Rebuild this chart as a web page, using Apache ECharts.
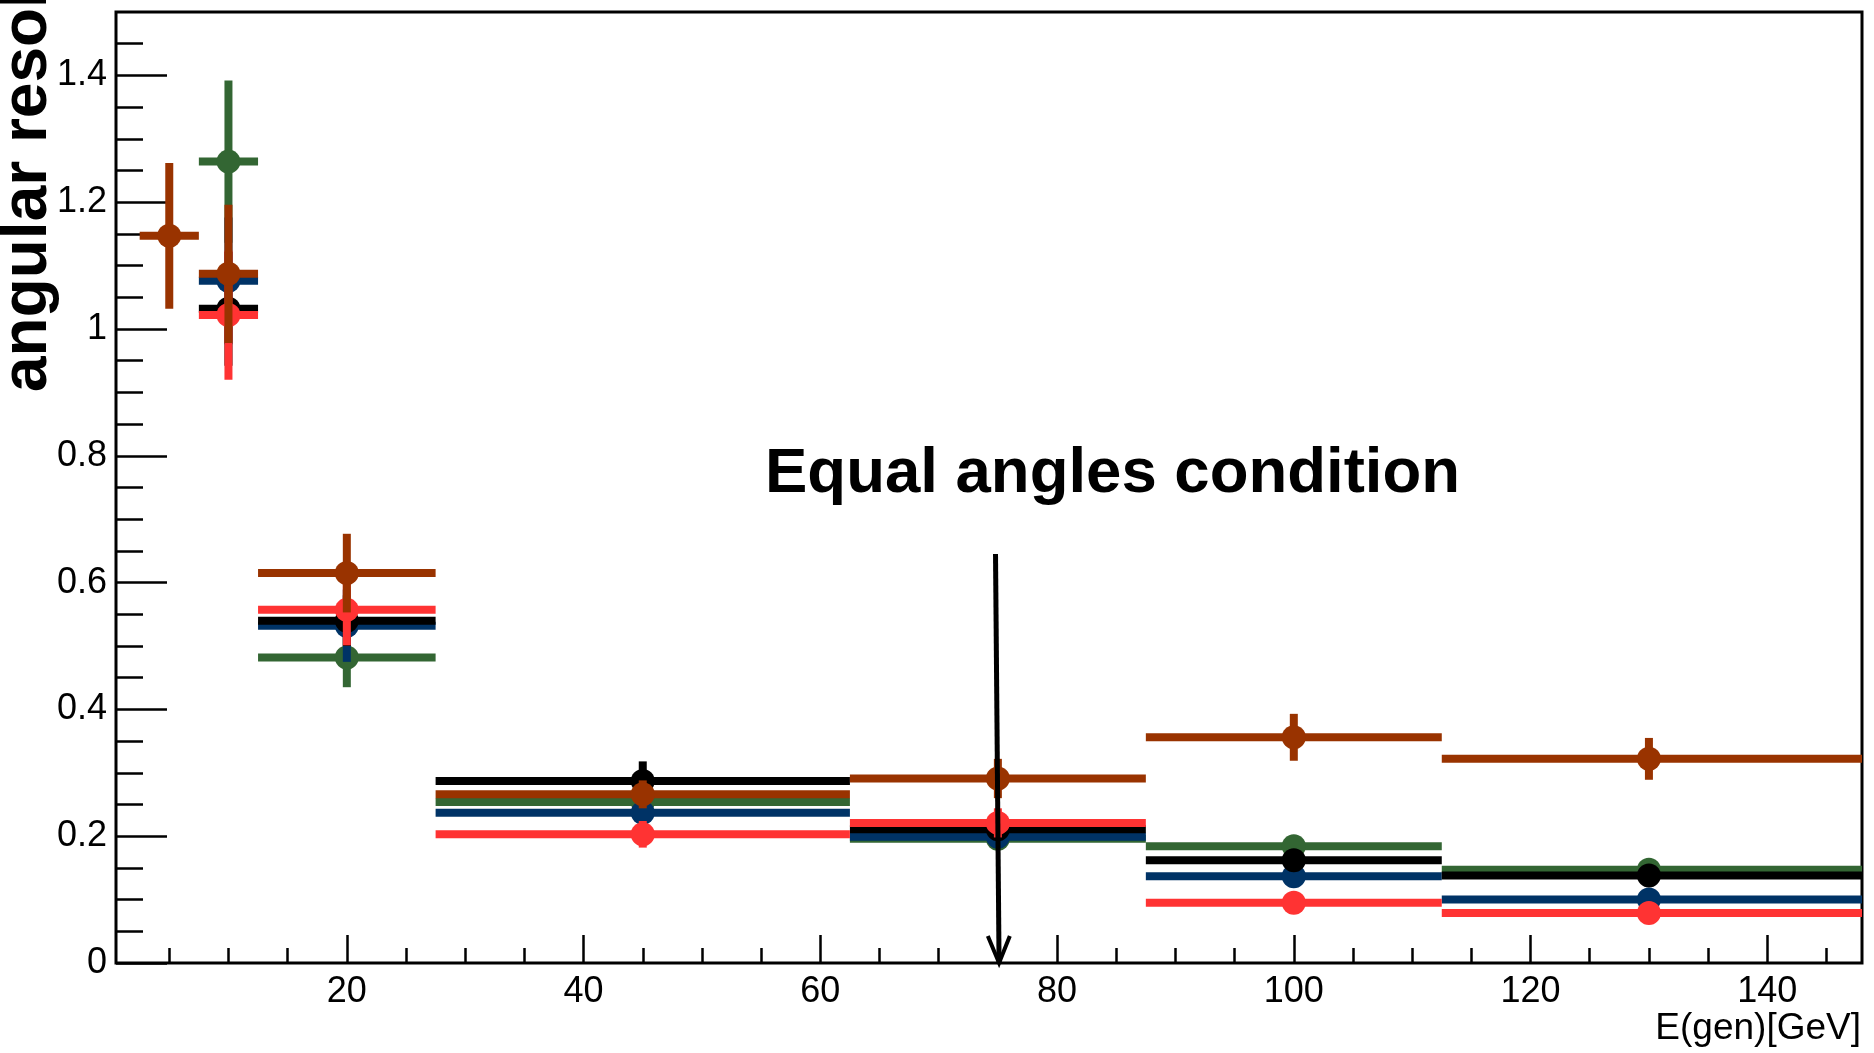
<!DOCTYPE html>
<html>
<head>
<meta charset="utf-8">
<script src="https://cdn.jsdelivr.net/npm/echarts@6/dist/echarts.min.js"></script>
<style>
  html, body { margin: 0; padding: 0; background: #fff; }
  #chart { width: 1874px; height: 1053px; }
</style>
</head>
<body>
<div id="chart"></div>
<script>
// energy bins (GeV)
const binCenters = [5, 10, 20, 45, 75, 100, 130];
const binLow     = [2.5, 7.5, 12.5, 27.5, 62.5, 87.5, 112.5];
const binHigh    = [7.5, 12.5, 27.5, 62.5, 87.5, 112.5, 150];

// angular resolution per series, null = no point in that bin
const greenVals = [null, 1.264, 0.482, 0.254, 0.196, 0.184, 0.147];
const greenErrs = [null, 0.128, 0.047, 0.012, 0.010, 0.012, 0.008];
const navyVals  = [null, 1.076, 0.532, 0.237, 0.199, 0.137, 0.100];
const navyErrs  = [null, 0.100, 0.057, 0.012, 0.012, 0.009, 0.008];
const blackVals = [null, 1.032, 0.540, 0.287, 0.211, 0.162, 0.138];
const blackErrs = [null, 0.090, 0.040, 0.031, 0.015, 0.010, 0.008];
const redVals   = [null, 1.022, 0.557, 0.203, 0.221, 0.095, 0.079];
const redErrs   = [null, 0.102, 0.056, 0.021, 0.023, 0.008, 0.008];
const brownVals = [1.147, 1.087, 0.615, 0.266, 0.291, 0.356, 0.322];
const brownErrs = [0.115, 0.109, 0.062, 0.022, 0.031, 0.037, 0.033];

// tick positions
const xMajorTicks = [20, 40, 60, 80, 100, 120, 140];
const xMinorTicks = [5, 10, 15, 20, 25, 30, 35, 40, 45, 50, 55, 60, 65, 70, 75,
                     80, 85, 90, 95, 100, 105, 110, 115, 120, 125, 130, 135, 140, 145];
const yMajorTicks = [0, 0.2, 0.4, 0.6, 0.8, 1, 1.2, 1.4];
const yMinorTicks = [0, 0.05, 0.1, 0.15, 0.2, 0.25, 0.3, 0.35, 0.4, 0.45, 0.5, 0.55,
                     0.6, 0.65, 0.7, 0.75, 0.8, 0.85, 0.9, 0.95, 1, 1.05, 1.1, 1.15,
                     1.2, 1.25, 1.3, 1.35, 1.4, 1.45];

// annotation arrow, in data units: [x, y] start and end
const arrowFrom = [74.8, 0.645];
const arrowTo   = [75.1, 0.0];

const FONT = '"Liberation Sans", Arial, Helvetica, sans-serif';

function buildData(vals, errs) {
  const out = [];
  vals.forEach((v, i) => {
    if (v === null) return;
    out.push([binCenters[i], v, binLow[i], binHigh[i], errs[i]]);
  });
  return out;
}

function errorBarItem(color) {
  return function (params, api) {
    const c = api.value(0), v = api.value(1);
    const lo = api.value(2), hi = api.value(3), e = api.value(4);
    const pL = api.coord([lo, v]);
    const pR = api.coord([hi, v]);
    const pT = api.coord([c, v + e]);
    const pB = api.coord([c, v - e]);
    const pC = api.coord([c, v]);
    const st = { stroke: color, lineWidth: 8, lineCap: 'butt' };
    return {
      type: 'group',
      children: [
        { type: 'line', shape: { x1: pL[0], y1: pL[1], x2: pR[0], y2: pR[1] }, style: st },
        { type: 'line', shape: { x1: pT[0], y1: pT[1], x2: pB[0], y2: pB[1] }, style: st },
        { type: 'circle', shape: { cx: pC[0], cy: pC[1], r: 12 }, style: { fill: color } }
      ]
    };
  };
}

function arrowItem(params, api) {
  const p1 = api.coord([api.value(0), api.value(1)]);
  const p2 = api.coord([api.value(2), api.value(3)]);
  const dx = p2[0] - p1[0], dy = p2[1] - p1[1];
  const len = Math.sqrt(dx * dx + dy * dy);
  const ux = dx / len, uy = dy / len, nx = -uy, ny = ux;
  const hl = 27, hw = 11;
  return {
    type: 'group',
    children: [
      { type: 'line', shape: { x1: p1[0], y1: p1[1], x2: p2[0], y2: p2[1] },
        style: { stroke: '#000', lineWidth: 5 } },
      { type: 'polyline',
        shape: { points: [
          [p2[0] - ux * hl + nx * hw, p2[1] - uy * hl + ny * hw],
          [p2[0], p2[1]],
          [p2[0] - ux * hl - nx * hw, p2[1] - uy * hl - ny * hw]
        ] },
        style: { stroke: '#000', lineWidth: 4, fill: null } }
    ]
  };
}

const seriesDefs = [
  { name: 'green', color: '#336633', vals: greenVals, errs: greenErrs },
  { name: 'navy',  color: '#003366', vals: navyVals,  errs: navyErrs },
  { name: 'black', color: '#000000', vals: blackVals, errs: blackErrs },
  { name: 'red',   color: '#ff3333', vals: redVals,   errs: redErrs },
  { name: 'brown', color: '#993300', vals: brownVals, errs: brownErrs }
];

const series = seriesDefs.map((s) => ({
  type: 'custom',
  name: s.name,
  xAxisIndex: 0,
  yAxisIndex: 0,
  clip: true,
  renderItem: errorBarItem(s.color),
  encode: { x: 0, y: 1 },
  data: buildData(s.vals, s.errs)
}));

series.push({
  type: 'custom',
  name: 'arrow',
  xAxisIndex: 0,
  yAxisIndex: 0,
  z: 5,
  renderItem: arrowItem,
  data: [[arrowFrom[0], arrowFrom[1], arrowTo[0], arrowTo[1]]]
});

const tickStyle = { color: '#000', width: 2.5 };

const option = {
  animation: false,
  backgroundColor: '#fff',
  grid: {
    left: 116, right: 12, top: 12, bottom: 90,
    show: true, borderColor: '#000', borderWidth: 3,
    containLabel: false, outerBoundsMode: 'none'
  },
  xAxis: [
    {
      type: 'value', min: 0.5, max: 148, position: 'bottom',
      axisLine: { show: false, onZero: false },
      splitLine: { show: false },
      axisTick: { show: true, inside: true, length: 28, lineStyle: tickStyle, customValues: xMajorTicks },
      axisLabel: { customValues: xMajorTicks, fontSize: 36, fontFamily: FONT, color: '#000', margin: 11 }
    },
    {
      type: 'value', min: 0.5, max: 148, position: 'bottom',
      axisLine: { show: false, onZero: false },
      splitLine: { show: false },
      axisTick: { show: true, inside: true, length: 15, lineStyle: tickStyle, customValues: xMinorTicks },
      axisLabel: { show: false }
    }
  ],
  yAxis: [
    {
      type: 'value', min: 0, max: 1.5, position: 'left',
      axisLine: { show: false, onZero: false },
      splitLine: { show: false },
      axisTick: { show: true, inside: true, length: 51, lineStyle: tickStyle, customValues: yMajorTicks },
      axisLabel: { customValues: yMajorTicks, fontSize: 36, fontFamily: FONT, color: '#000', margin: 9 }
    },
    {
      type: 'value', min: 0, max: 1.5, position: 'left',
      axisLine: { show: false, onZero: false },
      splitLine: { show: false },
      axisTick: { show: true, inside: true, length: 27, lineStyle: tickStyle, customValues: yMinorTicks },
      axisLabel: { show: false }
    }
  ],
  graphic: [
    {
      type: 'text', x: 28, y: 392, rotation: Math.PI / 2,
      style: { text: 'angular resolution', fontSize: 64, fontWeight: 'bold', fontFamily: FONT,
               fill: '#000', align: 'left', verticalAlign: 'middle' }
    },
    {
      type: 'text', x: 1861, y: 1029,
      style: { text: 'E(gen)[GeV]', fontSize: 37, fontFamily: FONT,
               fill: '#000', align: 'right', verticalAlign: 'middle' }
    },
    {
      type: 'text', x: 765, y: 474,
      style: { text: 'Equal angles condition', fontSize: 63.5, fontWeight: 'bold', fontFamily: FONT,
               fill: '#000', align: 'left', verticalAlign: 'middle' }
    }
  ],
  series: series
};

const chart = echarts.init(document.getElementById('chart'));
chart.setOption(option);
</script>
</body>
</html>
